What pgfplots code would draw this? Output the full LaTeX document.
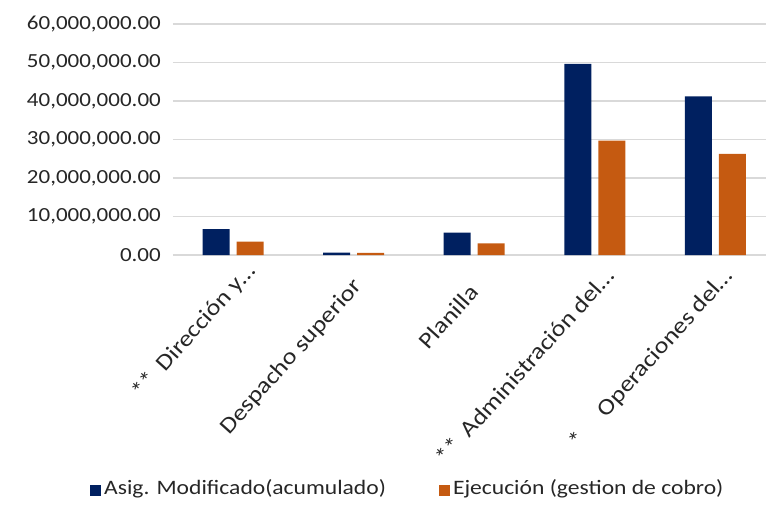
\documentclass[border=0pt]{standalone}
\usepackage{pgfplots}
\pgfplotsset{compat=1.18}
\usepackage{fontspec}
\setmainfont{Carlito}[FakeStretch=1.15]
\definecolor{navy}{HTML}{002060}
\definecolor{orng}{HTML}{C55A11}
\definecolor{grd}{HTML}{D9D9D9}
\begin{document}
\begin{tikzpicture}
\begin{axis}[
  at={(0,0)}, anchor=south west,
  scale only axis,
  width=593pt, height=231pt,
  xmin=-0.498, xmax=4.42,
  ymin=0, ymax=60000000,
  scaled y ticks=false,
  ybar=7pt, bar width=27pt,
  axis line style={draw=none},
  tick style={draw=none},
  major tick length=0pt,
  ymajorgrids,
  grid style={grd, line width=1.5pt},
  ytick={0,10000000,20000000,30000000,40000000,50000000,60000000},
  yticklabels={{0.00},{10,000,000.00},{20,000,000.00},{30,000,000.00},{40,000,000.00},{50,000,000.00},{60,000,000.00}},
  yticklabel style={font=\fontsize{20}{24}\selectfont, inner sep=0pt, anchor=east, xshift=-12pt, text=black!85},
  xtick={0,1,2,3,4},
  xticklabels={
    {**\hspace{0.45em}Dirección y…\hspace*{-28pt}},
    {Despacho superior\hspace*{-7pt}},
    {Planilla},
    {**\hspace{0.45em}Administración del…\hspace*{-22pt}},
    {*\hspace{1.3em}Operaciones del…\hspace*{-21pt}}},
  xticklabel style={font=\fontsize{22.8}{27}\selectfont, anchor=east, inner sep=0pt, yshift=-33pt, rotate=48, text=black!85},
  legend columns=2,
  legend style={draw=none, fill=none, at={(-0.14,-1.008)}, anchor=west,
    font=\fontsize{20.5}{24}\selectfont, text=black!85,
    /tikz/every even column/.append style={column sep=50pt},
    inner sep=0pt, nodes={inner xsep=3pt}},
  legend image code/.code={\fill[#1] (0pt,-8pt) rectangle (11pt,3pt);},
]
\addplot[fill=navy, draw=none] coordinates {(0,6700000) (1,600000) (2,5800000) (3,49650000) (4,41200000)};
\addplot[fill=orng, draw=none] coordinates {(0,3450000) (1,550000) (2,3000000) (3,29700000) (4,26300000)};
\legend{Asig. Modificado(acumulado), Ejecución (gestion de cobro)}
\end{axis}
\pgfresetboundingbox
\useasboundingbox (-173pt,-249pt) rectangle (593pt,255pt);
\end{tikzpicture}
\end{document}
